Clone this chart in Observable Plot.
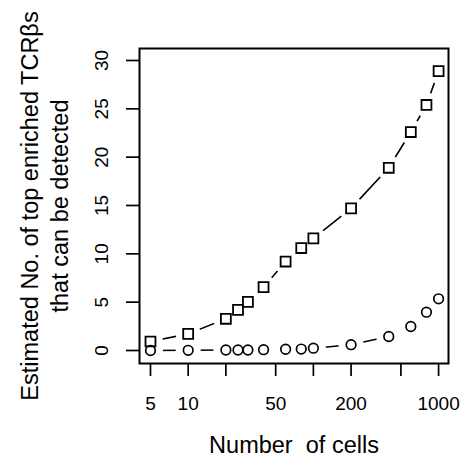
<!DOCTYPE html>
<html><head><meta charset="utf-8">
<script src="https://cdn.jsdelivr.net/npm/d3@7"></script>
<script src="https://cdn.jsdelivr.net/npm/@observablehq/plot@0.6"></script>
<style>body{margin:0;background:#fff}</style>
</head><body><div id="chart"></div>
<script>
const cells = [5, 10, 20, 25, 30, 40, 60, 80, 100, 200, 400, 600, 800, 1000];
const topValues = [0.93, 1.72, 3.28, 4.2, 5.03, 6.55, 9.2, 10.6, 11.6, 14.7, 18.9, 22.6, 25.4, 28.9];
const lowValues = [0, 0.02, 0.05, 0.05, 0.05, 0.08, 0.13, 0.15, 0.24, 0.6, 1.45, 2.48, 3.96, 5.35];
const xTicks = [5, 10, 20, 50, 100, 200, 500, 1000];
const xTickLabels = [5, 10, 50, 200, 1000];
const yTicks = [0, 5, 10, 15, 20, 25, 30];
const xTitle = "Number\u00a0 of cells";
const yTitle = "Estimated No. of top enriched TCRβs\nthat can be detected";

const topData = cells.map((c, i) => ({cells: c, value: topValues[i]}));
const lowData = cells.map((c, i) => ({cells: c, value: lowValues[i]}));
const allData = topData.concat(lowData);

const font = "'Liberation Sans', Arial, Helvetica, sans-serif";

const chart = Plot.plot({
  width: 465,
  height: 462,
  marginLeft: 139,
  marginRight: 17,
  marginTop: 48,
  marginBottom: 99,
  style: {fontFamily: font, background: "#fff", color: "#000"},
  x: {type: "log", domain: [4.085, 1200]},
  y: {domain: [-1.345, 31.24]},
  marks: [
    Plot.line(topData, {x: "cells", y: "value", stroke: "#000", strokeWidth: 1.6}),
    Plot.line(lowData, {x: "cells", y: "value", stroke: "#000", strokeWidth: 1.6}),
    Plot.dot(allData, {x: "cells", y: "value", r: 12.5, fill: "#fff", stroke: null}),
    Plot.dot(topData, {x: "cells", y: "value", symbol: "square", r: 5.6, stroke: "#000", strokeWidth: 1.8, fill: "none"}),
    Plot.dot(lowData, {x: "cells", y: "value", symbol: "circle", r: 4.8, stroke: "#000", strokeWidth: 1.7, fill: "none"}),
    Plot.axisX({ticks: xTicks, tickSize: 13, strokeWidth: 1.7, tickFormat: () => "", label: null}),
    Plot.text(xTickLabels, {x: d => d, text: d => String(d), frameAnchor: "bottom", dy: 33, lineAnchor: "top", fontSize: 19}),
    Plot.axisY({ticks: yTicks, tickSize: 13, tickPadding: 19, tickRotate: -90, fontSize: 19, strokeWidth: 1.7,
      tickFormat: d => String(d), label: null}),
    Plot.text([yTitle], {text: d => d, frameAnchor: "left", rotate: -90, dx: -123, lineAnchor: "top",
      textAnchor: "middle", fontSize: 23.5, lineHeight: 1.28}),
    Plot.text([xTitle], {text: d => d, frameAnchor: "bottom", dy: 89, lineAnchor: "bottom", fontSize: 23.5}),
    Plot.frame({stroke: "#000", strokeWidth: 2})
  ]
});
document.getElementById("chart").appendChild(chart);
</script>
</body></html>
